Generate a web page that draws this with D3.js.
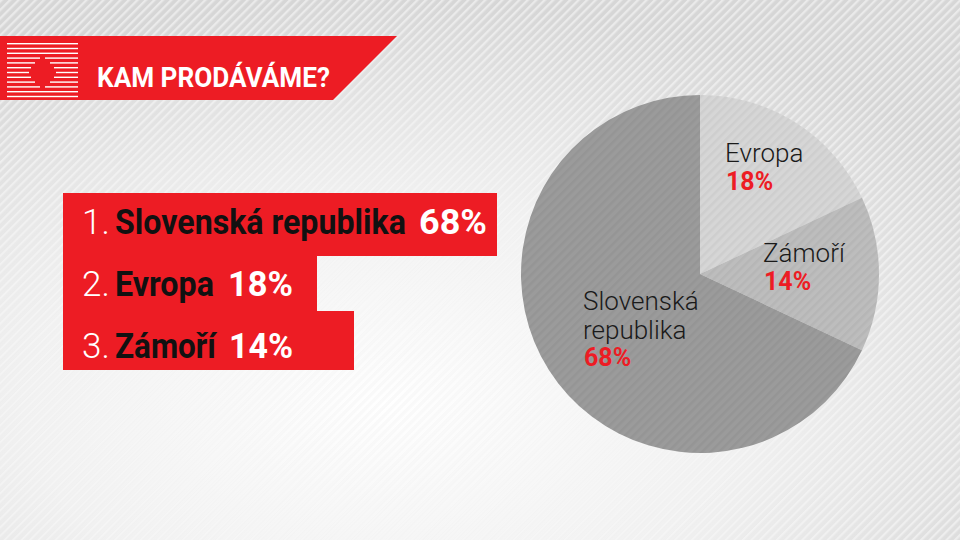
<!DOCTYPE html>
<html>
<head>
<meta charset="utf-8">
<script src="https://cdn.jsdelivr.net/npm/d3@7"></script>
<style>
  body { margin: 0; background: #eee; }
  svg { display: block; }
</style>
</head>
<body>
<svg width="960" height="540"></svg>
<script>
var title = "KAM PRODÁVÁME?";
var categories = ["Slovenská republika", "Evropa", "Zámoří"];
var values = [68, 18, 14];
var pieOrder = ["Evropa", "Zámoří", "Slovenská republika"];
var pieColors = { "Evropa": "#d6d6d6", "Zámoří": "#bdbdbd", "Slovenská republika": "#9b9b9b" };

var red = "#ed1c24";
var svg = d3.select("svg");
var defs = svg.append("defs");

// background gradient + stripes
var grad = defs.append("radialGradient").attr("id", "bg")
    .attr("cx", "40%").attr("cy", "75%").attr("r", "75%");
grad.append("stop").attr("offset", "0%").attr("stop-color", "#ffffff");
grad.append("stop").attr("offset", "50%").attr("stop-color", "#f1f1f1");
grad.append("stop").attr("offset", "100%").attr("stop-color", "#d6d6d6");

function stripes(id, color, op) {
  var p = defs.append("pattern").attr("id", id)
      .attr("patternUnits", "userSpaceOnUse")
      .attr("width", 6).attr("height", 6)
      .attr("patternTransform", "rotate(45)");
  p.append("rect").attr("width", 2.5).attr("height", 6).attr("fill", color).attr("opacity", op);
}
stripes("stripes", "#ffffff", 0.6);
stripes("stripesDark", "#000000", 0.05);
stripes("stripes2", "#000000", 0.04);

svg.append("rect").attr("width", 960).attr("height", 540).attr("fill", "url(#bg)");
svg.append("rect").attr("width", 960).attr("height", 540).attr("fill", "url(#stripesDark)");
svg.append("rect").attr("width", 960).attr("height", 540).attr("fill", "url(#stripes)");

// header banner
svg.append("path")
    .attr("d", "M0,36 L397,36 L333,100 L0,100 Z")
    .attr("fill", red);

// logo lines
var logo = svg.append("g");
d3.range(12).forEach(function(i) {
  var y = 43 + i * 4.8;
  var mid = i >= 3 && i <= 9;
  if (mid) {
    var gap = [3, 8, 12, 14, 12, 8, 3][i - 3];
    logo.append("rect").attr("x", 7).attr("y", y).attr("width", 36 - gap).attr("height", 1.4).attr("fill", "#fff");
    logo.append("rect").attr("x", 42 + gap).attr("y", y).attr("width", 36 - gap).attr("height", 1.4).attr("fill", "#fff");
  } else {
    logo.append("rect").attr("x", 7).attr("y", y).attr("width", 71).attr("height", 1.4).attr("fill", "#fff");
  }
});

// squeeze a text horizontally so it spans [x0, x1]
function fitText(sel, x0, x1, y) {
  var w = sel.node().getComputedTextLength();
  sel.attr("x", 0).attr("y", 0)
     .attr("transform", "translate(" + x0 + "," + y + ") scale(" + ((x1 - x0) / w) + ",1)");
}

var titleText = svg.append("text")
    .attr("font-family", "Roboto").attr("font-weight", 700)
    .attr("font-size", 27).attr("fill", "#fff")
    .text(title);
fitText(titleText, 97, 330, 87);

// ranked list boxes
var rows = [
  { y0: 193, y1: 256, right: 497, base: 234, nameEnd: 406, valX: 419, valEnd: 487 },
  { y0: 255, y1: 312, right: 317, base: 296, nameEnd: 214, valX: 228, valEnd: 293 },
  { y0: 311, y1: 370, right: 354, base: 358, nameEnd: 216, valX: 229, valEnd: 293 }
];

var list = svg.append("g");
rows.forEach(function(r, i) {
  list.append("rect").attr("x", 63).attr("y", r.y0)
      .attr("width", r.right - 63).attr("height", r.y1 - r.y0).attr("fill", red);
});
rows.forEach(function(r, i) {
  var g = list.append("g").attr("font-family", "Roboto").attr("font-size", 35);
  g.append("text").attr("x", 82).attr("y", r.base)
      .attr("font-weight", 300).attr("fill", "#fff")
      .text((i + 1) + ".");
  var name = g.append("text")
      .attr("font-weight", 700).attr("fill", "#111")
      .text(categories[i]);
  fitText(name, 115, r.nameEnd, r.base);
  var val = g.append("text")
      .attr("font-weight", 700).attr("fill", "#fff")
      .text(values[i] + "%");
  fitText(val, r.valX, r.valEnd, r.base);
});

// pie
var cx = 700, cy = 274, radius = 179;
var pieData = pieOrder.map(function(c) { return { name: c, value: values[categories.indexOf(c)] }; });
var pie = d3.pie().sort(null).value(function(d) { return d.value; });
var arc = d3.arc().innerRadius(0).outerRadius(radius);

var pg = svg.append("g").attr("transform", "translate(" + cx + "," + cy + ")");
pg.selectAll("path.slice")
    .data(pie(pieData))
  .enter().append("path")
    .attr("class", "slice")
    .attr("d", arc)
    .attr("fill", function(d) { return pieColors[d.data.name]; });
pg.selectAll("path.tex")
    .data(pie(pieData))
  .enter().append("path")
    .attr("class", "tex")
    .attr("d", arc)
    .attr("fill", "url(#stripes2)");

// pie labels
var labels = {
  "Evropa": { x: 725, lines: ["Evropa"], y: 162 },
  "Zámoří": { x: 763, lines: ["Zámoří"], y: 262 },
  "Slovenská republika": { x: 583, lines: ["Slovenská", "republika"], y: 310 }
};
pieData.forEach(function(d) {
  var l = labels[d.name];
  var t = svg.append("text").attr("font-family", "Roboto").attr("font-size", 26);
  l.lines.forEach(function(line, j) {
    t.append("tspan").attr("x", l.x).attr("y", l.y + j * 29)
        .attr("font-weight", 300).attr("fill", "#1a1a1a").text(line);
  });
  t.append("tspan").attr("x", l.x + 1).attr("y", l.y + l.lines.length * 28)
      .attr("font-weight", 700).attr("fill", red).attr("font-size", 25)
      .text(d.value + "%");
});
</script>
</body>
</html>
